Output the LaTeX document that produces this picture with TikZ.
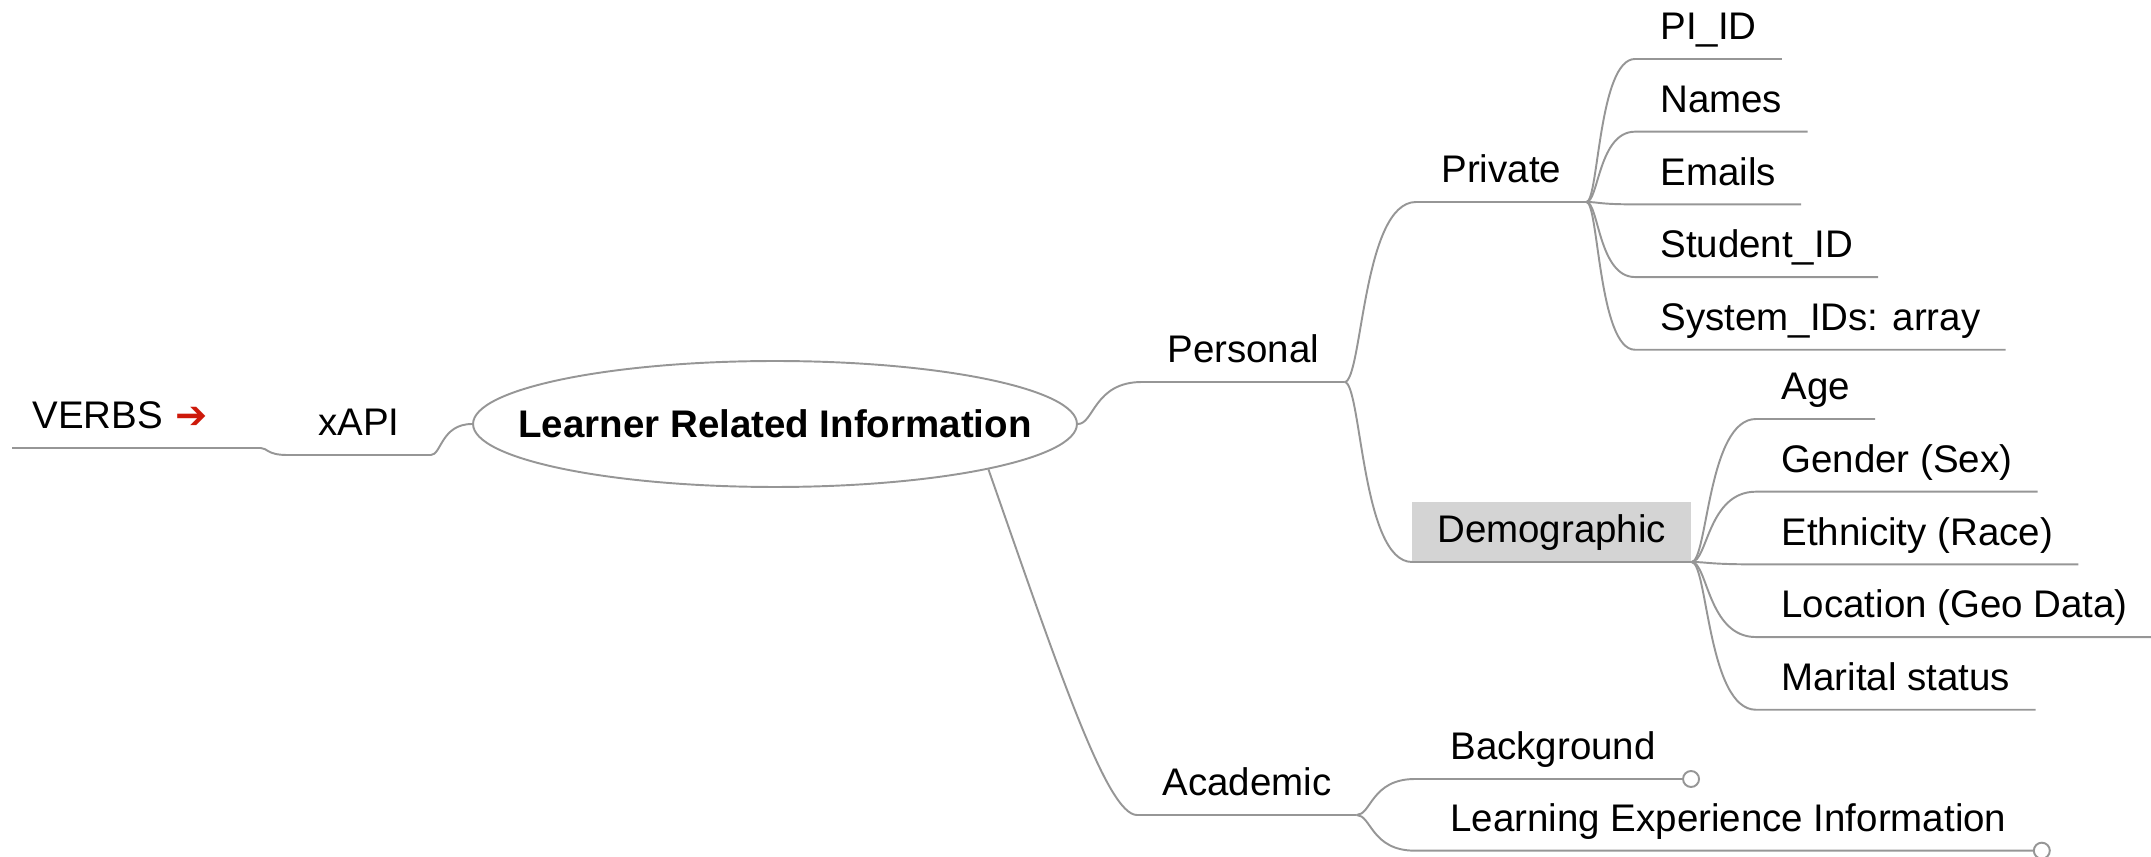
\documentclass[tikz,border=0pt]{standalone}
\usepackage{fontspec}
\setmainfont{Liberation Sans}
\newfontfamily\symbolfont{DejaVu Sans}
\usepackage{xcolor}
\usetikzlibrary{shapes,positioning,calc}
\definecolor{linkcolor}{RGB}{150,150,150}
\definecolor{demofill}{RGB}{212,212,212}
\definecolor{verbred}{RGB}{205,25,10}
\newcommand{\mapfont}{\fontsize{21.9pt}{26pt}\selectfont}

\begin{document}
\begin{tikzpicture}[
    x=0.02cm, y=-0.02cm,
    topic/.style={font=\mapfont, anchor=south west, inner xsep=0.5cm, inner ysep=0pt, text height=0.58cm, text depth=0.38cm},
    marked/.style={topic, fill=demofill, text height=0.82cm},
    central/.style={ellipse, draw=linkcolor, line width=1.1pt, font=\mapfont\bfseries, minimum width=12.08cm, minimum height=2.52cm, inner sep=0pt},
    knob/.style={circle, draw=linkcolor, fill=white, line width=1.1pt, minimum size=0.32cm, inner sep=0pt},
    link/.style={draw=linkcolor, line width=1.1pt},
    twig/.style={to path={.. controls ($(\tikztostart)!0.25!(\tikztostart -| \tikztotarget)$) and ($(\tikztotarget)!0.75!(\tikztotarget -| \tikztostart)$) .. (\tikztotarget) \tikztonodes}}
]
\useasboundingbox (0,0) rectangle (2151,857);

% Central topic
\node[central] (root) at (775,424) {\makebox[0pt]{Learner Related Information}};

% Left branch
\node[topic, inner xsep=0.4cm, text width=4.16cm, align=left] (verbs) at (12,448) {VERBS {\symbolfont\color{verbred}➔}};
\node[topic, inner xsep=0.62cm] (xapi) at (287,455) {xAPI};

% Personal branch
\node[topic] (pers) at (1142,382) {Personal};
\node[topic] (priv) at (1416,202) {Private};
\node[marked] (demo) at (1412,562) {Demographic};

% Private details
\node[topic] (pid) at (1635,59) {PI\_ID};
\node[topic, below=0.48cm of pid.south west, anchor=north west] (names) {Names};
\node[topic, below=0.48cm of names.south west, anchor=north west] (emails) {Emails};
\node[topic, below=0.48cm of emails.south west, anchor=north west] (sid) {Student\_ID};
\node[topic, below=0.48cm of sid.south west, anchor=north west] (sysid) {System\_IDs: array};

% Demographic details
\node[topic] (age) at (1756,419) {Age};
\node[topic, below=0.48cm of age.south west, anchor=north west] (gender) {Gender (Sex)};
\node[topic, below=0.48cm of gender.south west, anchor=north west] (ethnic) {Ethnicity (Race)};
\node[topic, below=0.48cm of ethnic.south west, anchor=north west] (location) {Location (Geo Data)};
\node[topic, below=0.48cm of location.south west, anchor=north west] (marital) {Marital status};

% Academic branch
\node[topic] (acad) at (1137,815) {Academic};
\node[topic, inner xsep=0.7cm] (bg) at (1415,779) {Background};
\node[topic, inner xsep=0.7cm, below=0.46cm of bg.south west, anchor=north west] (learn) {Learning Experience Information};
\node[knob] (bgknob) at (bg.south east) {};
\node[knob] (learnknob) at (learn.south east) {};

% Connectors
\draw[link] (verbs.south west) -- (verbs.south east) to[twig] (xapi.south west) -- (xapi.south east) to[twig] (root.west);
\draw[link] (root.east) to[twig] (pers.south west) -- (pers.south east);
\draw[link] (pers.south east) to[twig] (priv.south west) -- (priv.south east);
\draw[link] (pers.south east) to[twig] (demo.south west) -- (demo.south east);

\draw[link] (priv.south east) to[twig] (pid.south west) -- (pid.south east);
\draw[link] (priv.south east) to[twig] (names.south west) -- (names.south east);
\draw[link] (priv.south east) to[twig] (emails.south west) -- (emails.south east);
\draw[link] (priv.south east) to[twig] (sid.south west) -- (sid.south east);
\draw[link] (priv.south east) to[twig] (sysid.south west) -- (sysid.south east);

\draw[link] (demo.south east) to[twig] (age.south west) -- (age.south east);
\draw[link] (demo.south east) to[twig] (gender.south west) -- (gender.south east);
\draw[link] (demo.south east) to[twig] (ethnic.south west) -- (ethnic.south east);
\draw[link] (demo.south east) to[twig] (location.south west) -- (location.south east);
\draw[link] (demo.south east) to[twig] (marital.south west) -- (marital.south east);

\draw[link] (root.-12.5) .. controls +(70,200) and +(-30,0) .. (acad.south west) -- (acad.south east);
\draw[link] (acad.south east) to[twig] (bg.south west) -- (bgknob.west);
\draw[link] (acad.south east) to[twig] (learn.south west) -- (learnknob.west);

\end{tikzpicture}
\end{document}
